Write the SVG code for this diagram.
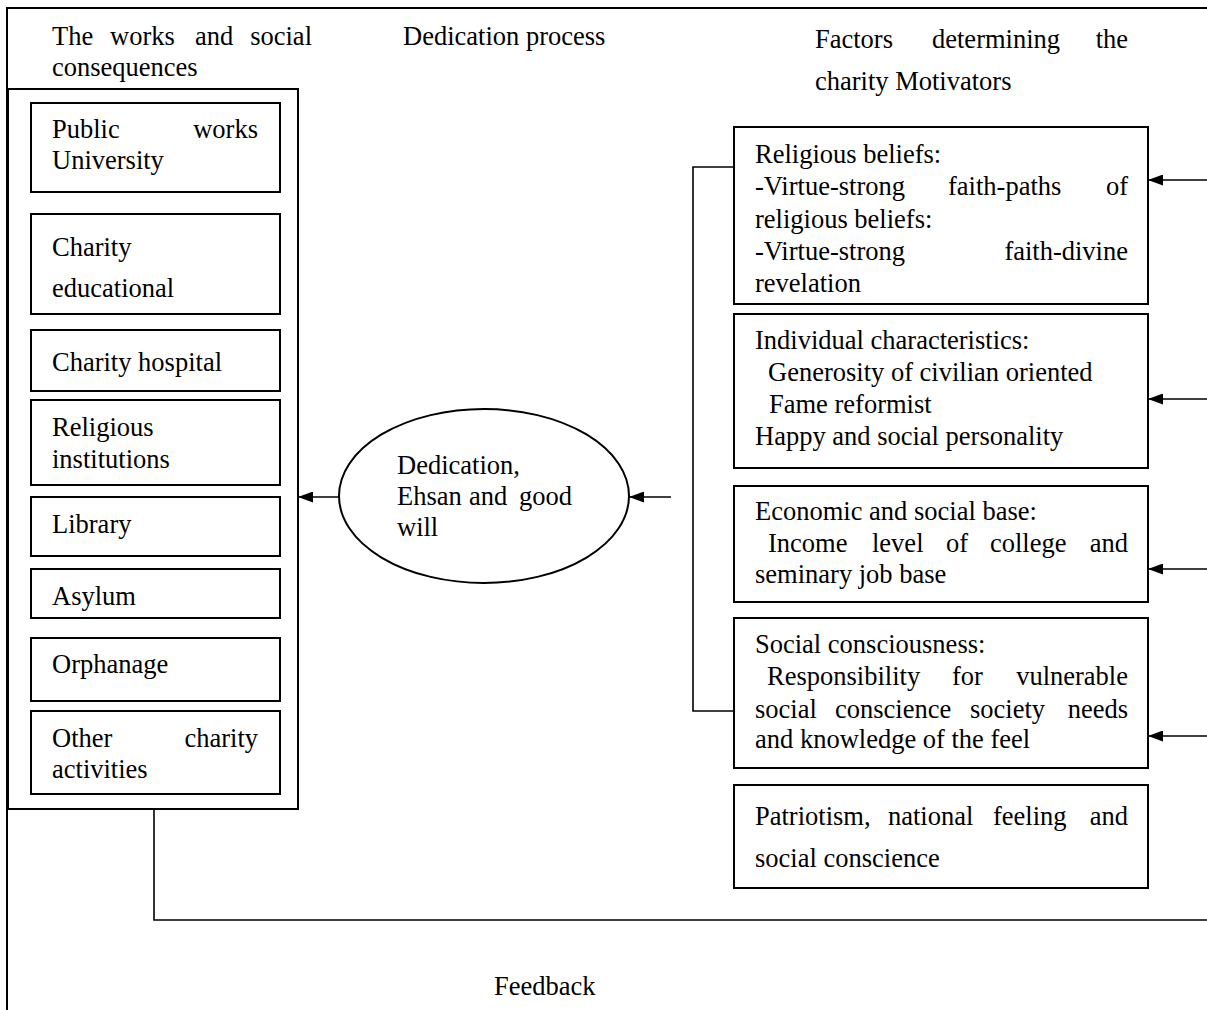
<svg xmlns="http://www.w3.org/2000/svg" width="1207" height="1010" viewBox="0 0 1207 1010" font-family="'Liberation Serif', 'Times New Roman', 'DejaVu Serif', serif">
<style>
text{font-family:'Liberation Serif','Times New Roman','DejaVu Serif',serif;font-size:26.5px;fill:#000}
.box{fill:#fff;stroke:#000;stroke-width:2}
.ln{fill:none;stroke:#000;stroke-width:2}
.thin{fill:none;stroke:#000;stroke-width:1.6}
.e{text-anchor:end}
</style>
<defs>
<marker id="ah" viewBox="0 0 15 11" refX="15" refY="5.5" markerWidth="15" markerHeight="11" markerUnits="userSpaceOnUse" orient="auto">
<path d="M0,0 L15,5.5 L0,11 Z" fill="#000"/>
</marker>
</defs>
<rect width="1207" height="1010" fill="#fff"/>
<g id="frame">
<path class="ln" d="M7,1010 V8 H1207"/>
</g>
<g id="headings">
<text x="52" y="45">The</text><text x="110" y="45">works</text><text x="195" y="45">and</text><text x="312" y="45" class="e">social</text>
<text x="52" y="76">consequences</text>
<text x="403" y="45">Dedication process</text>
<text x="815" y="48">Factors</text><text x="932" y="48">determining</text><text x="1128" y="48" class="e">the</text>
<text x="815" y="90">charity Motivators</text>
<text x="494" y="995">Feedback</text>
</g>
<g id="connectors">
<path class="thin" d="M734,167 H693 V711 H734"/>
<path class="thin" d="M154,809 V920 H1207"/>
<line class="thin" x1="339" y1="497" x2="298" y2="497" marker-end="url(#ah)"/>
<line class="thin" x1="671" y1="497" x2="629" y2="497" marker-end="url(#ah)"/>
<line class="thin" x1="1207" y1="180" x2="1148" y2="180" marker-end="url(#ah)"/>
<line class="thin" x1="1207" y1="399" x2="1148" y2="399" marker-end="url(#ah)"/>
<line class="thin" x1="1207" y1="569" x2="1148" y2="569" marker-end="url(#ah)"/>
<line class="thin" x1="1207" y1="736" x2="1148" y2="736" marker-end="url(#ah)"/>
</g>
<g id="works-container"><rect class="box" x="8" y="89" width="290" height="720"/></g>
<g id="n-public"><rect class="box" x="31" y="103" width="249" height="89"/>
<text x="52" y="138">Public</text><text x="258" y="138" class="e">works</text><text x="52" y="169">University</text></g>
<g id="n-educational"><rect class="box" x="31" y="214" width="249" height="100"/>
<text x="52" y="256">Charity</text><text x="52" y="297">educational</text></g>
<g id="n-hospital"><rect class="box" x="31" y="330" width="249" height="61"/>
<text x="52" y="371">Charity hospital</text></g>
<g id="n-religious"><rect class="box" x="31" y="400" width="249" height="85"/>
<text x="52" y="436">Religious</text><text x="52" y="468">institutions</text></g>
<g id="n-library"><rect class="box" x="31" y="497" width="249" height="59"/>
<text x="52" y="533">Library</text></g>
<g id="n-asylum"><rect class="box" x="31" y="569" width="249" height="49"/>
<text x="52" y="605">Asylum</text></g>
<g id="n-orphanage"><rect class="box" x="31" y="638" width="249" height="63"/>
<text x="52" y="673">Orphanage</text></g>
<g id="n-other"><rect class="box" x="31" y="711" width="249" height="83"/>
<text x="52" y="747">Other</text><text x="258" y="747" class="e">charity</text><text x="52" y="778">activities</text></g>
<g id="n-dedication"><ellipse class="box" cx="484" cy="496" rx="145" ry="87"/>
<text x="397" y="474">Dedication,</text>
<text x="397" y="505">Ehsan</text><text x="469" y="505">and</text><text x="572" y="505" class="e">good</text>
<text x="397" y="536">will</text></g>
<g id="n-beliefs"><rect class="box" x="734" y="127" width="414" height="177"/>
<text x="755" y="163">Religious beliefs:</text>
<text x="755" y="195">-Virtue-strong</text><text x="948" y="195">faith-paths</text><text x="1128" y="195" class="e">of</text>
<text x="755" y="228">religious beliefs:</text>
<text x="755" y="260">-Virtue-strong</text><text x="1128" y="260" class="e">faith-divine</text>
<text x="755" y="292">revelation</text></g>
<g id="n-individual"><rect class="box" x="734" y="314" width="414" height="154"/>
<text x="755" y="349">Individual characteristics:</text>
<text x="768" y="381">Generosity of civilian oriented</text>
<text x="769" y="413">Fame reformist</text>
<text x="755" y="445">Happy and social personality</text></g>
<g id="n-economic"><rect class="box" x="734" y="486" width="414" height="116"/>
<text x="755" y="520">Economic and social base:</text>
<text x="768" y="552">Income</text><text x="872" y="552">level</text><text x="946" y="552">of</text><text x="990" y="552">college</text><text x="1128" y="552" class="e">and</text>
<text x="755" y="583">seminary job base</text></g>
<g id="n-social"><rect class="box" x="734" y="618" width="414" height="150"/>
<text x="755" y="653">Social consciousness:</text>
<text x="767" y="685">Responsibility</text><text x="952" y="685">for</text><text x="1128" y="685" class="e">vulnerable</text>
<text x="755" y="718">social</text><text x="835" y="718">conscience</text><text x="970" y="718">society</text><text x="1128" y="718" class="e">needs</text>
<text x="755" y="748">and knowledge of the feel</text></g>
<g id="n-patriotism"><rect class="box" x="734" y="785" width="414" height="103"/>
<text x="755" y="825">Patriotism,</text><text x="888" y="825">national</text><text x="993" y="825">feeling</text><text x="1128" y="825" class="e">and</text>
<text x="755" y="867">social conscience</text></g>
</svg>
